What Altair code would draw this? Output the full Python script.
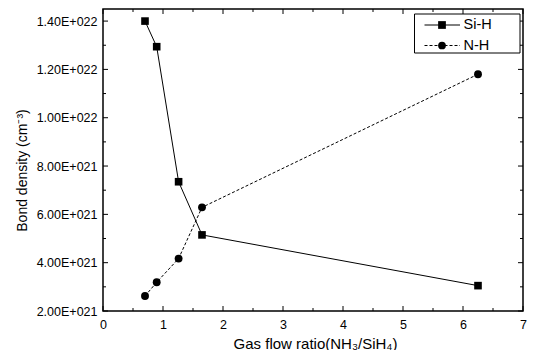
import json
import altair as alt
import pandas as pd

# ---- data ----
series_names = ["Si-H", "N-H"]
x_sih = [0.70, 0.895, 1.26, 1.65, 6.25]
y_sih = [1.400e22, 1.294e22, 7.35e21, 5.15e21, 3.05e21]
x_nh = [0.70, 0.895, 1.26, 1.65, 6.25]
y_nh = [2.62e21, 3.19e21, 4.17e21, 6.29e21, 1.18e22]

x_major = [0, 1, 2, 3, 4, 5, 6, 7]
x_minor = [0.5, 1.5, 2.5, 3.5, 4.5, 5.5, 6.5]
y_major = [2e21, 4e21, 6e21, 8e21, 1e22, 1.2e22, 1.4e22]
y_minor = [3e21, 5e21, 7e21, 9e21, 1.1e22, 1.3e22]
y_tick_labels = ["2.00E+021", "4.00E+021", "6.00E+021", "8.00E+021",
                 "1.00E+022", "1.20E+022", "1.40E+022"]

x_title = "Gas flow ratio(NH\u2083/SiH\u2084)"
y_title = "Bond density (cm\u207b\u00b3)"

W, H = 420, 302
FONT = "Liberation Sans"

df_sih = pd.DataFrame({"x": x_sih, "y": y_sih})
df_nh = pd.DataFrame({"x": x_nh, "y": y_nh})

x_scale = alt.Scale(domain=[0, 7], nice=False, zero=False)
y_scale = alt.Scale(domain=[2e21, 1.45e22], nice=False, zero=False)

y_label_expr = f"{json.dumps(y_tick_labels)}[indexof({json.dumps(y_major)}, datum.value)]"

x_axis = alt.Axis(values=x_major, format="d", ticks=False, tickSize=0, domain=False, grid=False,
                  labelPadding=7, labelFontSize=12.5, labelFont=FONT, labelColor="black",
                  labelFlush=False, labelOverlap=False,
                  title=x_title, titleFont=FONT, titleFontSize=15, titleFontWeight="normal",
                  titleColor="black", titleX=212, titleY=37, titleAlign="center",
                  titleBaseline="alphabetic", titleAnchor="middle")
y_axis = alt.Axis(values=y_major, ticks=False, tickSize=0, domain=False, grid=False,
                  labelPadding=6, labelFontSize=12.5, labelFont=FONT, labelColor="black",
                  labelFlush=False, labelOverlap=False, labelExpr=y_label_expr,
                  title=y_title, titleFont=FONT, titleFontSize=14, titleFontWeight="normal",
                  titleColor="black", titleX=-81, titleY=161, titleAngle=270,
                  titleAlign="center", titleBaseline="middle")

sih_line = alt.Chart(df_sih).mark_line(color="black", strokeWidth=1).encode(
    x=alt.X("x:Q", scale=x_scale, axis=x_axis),
    y=alt.Y("y:Q", scale=y_scale, axis=y_axis),
)
sih_pts = alt.Chart(df_sih).mark_point(shape="square", filled=True, size=58,
                                       color="black", opacity=1).encode(
    x="x:Q", y="y:Q")
nh_line = alt.Chart(df_nh).mark_line(color="black", strokeWidth=1,
                                     strokeDash=[3, 2]).encode(x="x:Q", y="y:Q")
nh_pts = alt.Chart(df_nh).mark_point(shape="circle", filled=True, size=62,
                                     color="black", opacity=1).encode(
    x="x:Q", y="y:Q")

# ---- inward ticks on all four sides ----
tick_layers = []
for vals, ln in ((x_major, 5), (x_minor, 3)):
    d = pd.DataFrame({"v": vals})
    tick_layers.append(alt.Chart(d).mark_rule(color="black", strokeWidth=1).encode(
        x="v:Q", y=alt.value(H), y2=alt.value(H - ln)))
    tick_layers.append(alt.Chart(d).mark_rule(color="black", strokeWidth=1).encode(
        x="v:Q", y=alt.value(0), y2=alt.value(ln)))
for vals, ln in ((y_major, 5), (y_minor, 3)):
    d = pd.DataFrame({"v": vals})
    tick_layers.append(alt.Chart(d).mark_rule(color="black", strokeWidth=1).encode(
        y="v:Q", x=alt.value(0), x2=alt.value(ln)))
    tick_layers.append(alt.Chart(d).mark_rule(color="black", strokeWidth=1).encode(
        y="v:Q", x=alt.value(W), x2=alt.value(W - ln)))

# ---- legend ----
LB = W - 108.5  # legend box left edge
one = pd.DataFrame({"k": [0]})
leg_box = alt.Chart(one).mark_rect(fill="white", stroke="black", strokeWidth=1).encode(
    x=alt.value(LB), x2=alt.value(W - 3), y=alt.value(5), y2=alt.value(44))
leg_layers = [leg_box]
for name, yy, shape, dash in ((series_names[0], 16, "square", None),
                              (series_names[1], 36.5, "circle", [3, 2])):
    d = pd.DataFrame({"label": [name]})
    rule_kw = {"color": "black", "strokeWidth": 1}
    if dash:
        rule_kw["strokeDash"] = dash
    leg_layers.append(alt.Chart(d).mark_rule(**rule_kw).encode(
        x=alt.value(LB + 10), x2=alt.value(LB + 45.5), y=alt.value(yy)))
    leg_layers.append(alt.Chart(d).mark_point(shape=shape, filled=True, size=60,
                                              color="black", opacity=1).encode(
        x=alt.value(LB + 27.5), y=alt.value(yy)))
    leg_layers.append(alt.Chart(d).mark_text(align="left", baseline="middle",
                                             font=FONT, fontSize=14.5, color="black").encode(
        x=alt.value(LB + 49), y=alt.value(yy), text="label:N"))

chart = alt.layer(sih_line, nh_line, sih_pts, nh_pts, *tick_layers, *leg_layers).properties(
    width=W, height=H,
    autosize=alt.AutoSizeParams(type="none"),
    padding={"left": 95, "top": 1, "right": 4, "bottom": 39},
    background="white",
).configure_view(stroke="black", strokeWidth=1.5)

chart.save("out.html", embed_options={"renderer": "svg", "actions": False})
